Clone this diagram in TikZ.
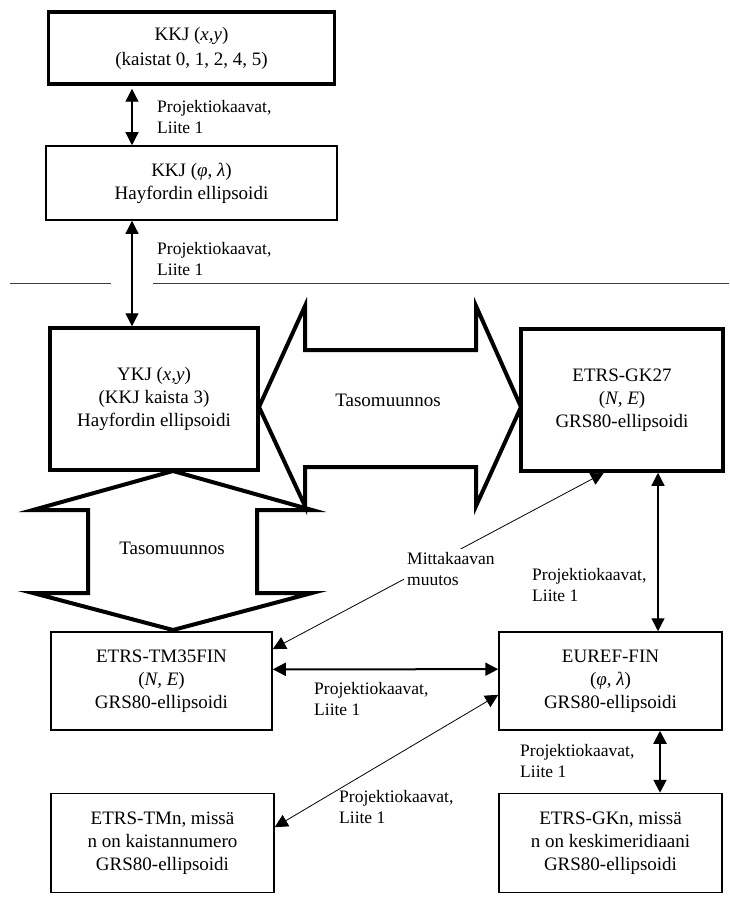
\documentclass[tikz,border=0pt]{standalone}
\usepackage{fontspec}
\setmainfont{Liberation Serif}
\usetikzlibrary{arrows.meta}
\tikzset{
  box/.style={draw, rectangle, align=center, inner sep=0pt, font=\fontsize{19}{23}\selectfont},
  thickbox/.style={box, line width=3.5pt},
  thinbox/.style={box, line width=1.5pt},
  lbl/.style={anchor=west, align=left, inner sep=0pt, font=\fontsize{17.5}{21}\selectfont},
  conn/.style={<->, line width=1.2pt},
  boldconn/.style={<->, line width=2pt},
  slimconn/.style={<->, line width=0.8pt},
  blockarrow/.style={line width=4pt, miter limit=20},
}
\begin{document}
\begin{tikzpicture}[>={Triangle[length=13pt,width=13pt]}, x=1pt, y=-1pt]
  \path[use as bounding box, fill=white] (0,0) rectangle (729,909);
  % boxes
  \node[thickbox, minimum width=286pt, minimum height=72pt, font=\fontsize{19}{25}\selectfont] (kkjxy) at (191.5,48) {KKJ (\textit{x,y})\\(kaistat 0, 1, 2, 4, 5)};
  \node[thinbox, minimum width=291pt, minimum height=74pt] (kkjfl) at (191.5,183) {KKJ (\textit{φ}, \textit{λ})\\Hayfordin ellipsoidi};
  \node[thickbox, minimum width=208pt, minimum height=142pt] (ykj) at (154,399) {YKJ (\textit{x,y})\\(KKJ kaista 3)\\Hayfordin ellipsoidi};
  \node[thickbox, minimum width=202pt, minimum height=142pt] (gk27) at (622,400) {ETRS-GK27\\(\textit{N, E})\\GRS80-ellipsoidi};
  \node[thinbox, minimum width=221pt, minimum height=98pt] (tm35) at (161.5,681) {ETRS-TM35FIN\\(\textit{N, E})\\GRS80-ellipsoidi};
  \node[thinbox, minimum width=223pt, minimum height=98pt] (euref) at (610.5,681) {EUREF-FIN\\(\textit{φ}, \textit{λ})\\GRS80-ellipsoidi};
  \node[thinbox, minimum width=223pt, minimum height=99pt] (tmn) at (162.5,843) {ETRS-TMn, missä\\n on kaistannumero\\GRS80-ellipsoidi};
  \node[thinbox, minimum width=223pt, minimum height=99pt] (gkn) at (610.5,843) {ETRS-GKn, missä\\n on keskimeridiaani\\GRS80-ellipsoidi};
  % upper part
  \coordinate (c1) at (132,0);
  \draw[conn, shorten <=3pt] (kkjxy.south -| c1) -- (kkjfl.north -| c1);
  \node[lbl] (p1) at (157,117) {Projektiokaavat,\\Liite 1};
  \draw[conn] (kkjfl.south -| c1) -- (ykj.north -| c1);
  \node[lbl] (p2) at (157,259) {Projektiokaavat,\\Liite 1};
  \draw[line width=1pt, black!75] (10,283) -- (111,283);
  \draw[line width=1pt, black!75] (153,283) -- (729,283);
  % block arrows
  \draw[blockarrow] (259,407) -- (305,306) -- (305,350) -- (476,350) -- (476,306) -- (521,407)
    -- (476,506) -- (476,467) -- (305,467) -- (305,506) -- cycle;
  \node[font=\fontsize{19}{23}\selectfont] (taso1) at (388,400) {Tasomuunnos};
  \draw[blockarrow] (173,471) -- (312,510) -- (257,510) -- (257,593) -- (312,593) -- (173,630)
    -- (33,593) -- (88,593) -- (88,510) -- (33,510) -- cycle;
  \node[font=\fontsize{19}{23}\selectfont] (taso2) at (172,548) {Tasomuunnos};
  % lower part
  \draw[slimconn] (tm35.16) -- (gk27.256);
  \node[lbl, fill=white, inner sep=3pt] (mitta) at (404,569) {Mittakaavan\\muutos};
  \coordinate (c2) at (658,0);
  \draw[conn] (gk27.south -| c2) -- (euref.north -| c2);
  \node[lbl] (p3) at (532,585) {Projektiokaavat,\\Liite 1};
  \draw[boldconn] (tm35.6) -- (euref.174);
  \node[lbl] (p4) at (314,699) {Projektiokaavat,\\Liite 1};
  \draw[slimconn] (euref.187) -- (tmn.8);
  \node[lbl] (p5) at (339,807) {Projektiokaavat,\\Liite 1};
  \coordinate (c3) at (660,0);
  \draw[boldconn] (euref.south -| c3) -- (gkn.north -| c3);
  \node[lbl] (p6) at (520,761) {Projektiokaavat,\\Liite 1};
\end{tikzpicture}
\end{document}
